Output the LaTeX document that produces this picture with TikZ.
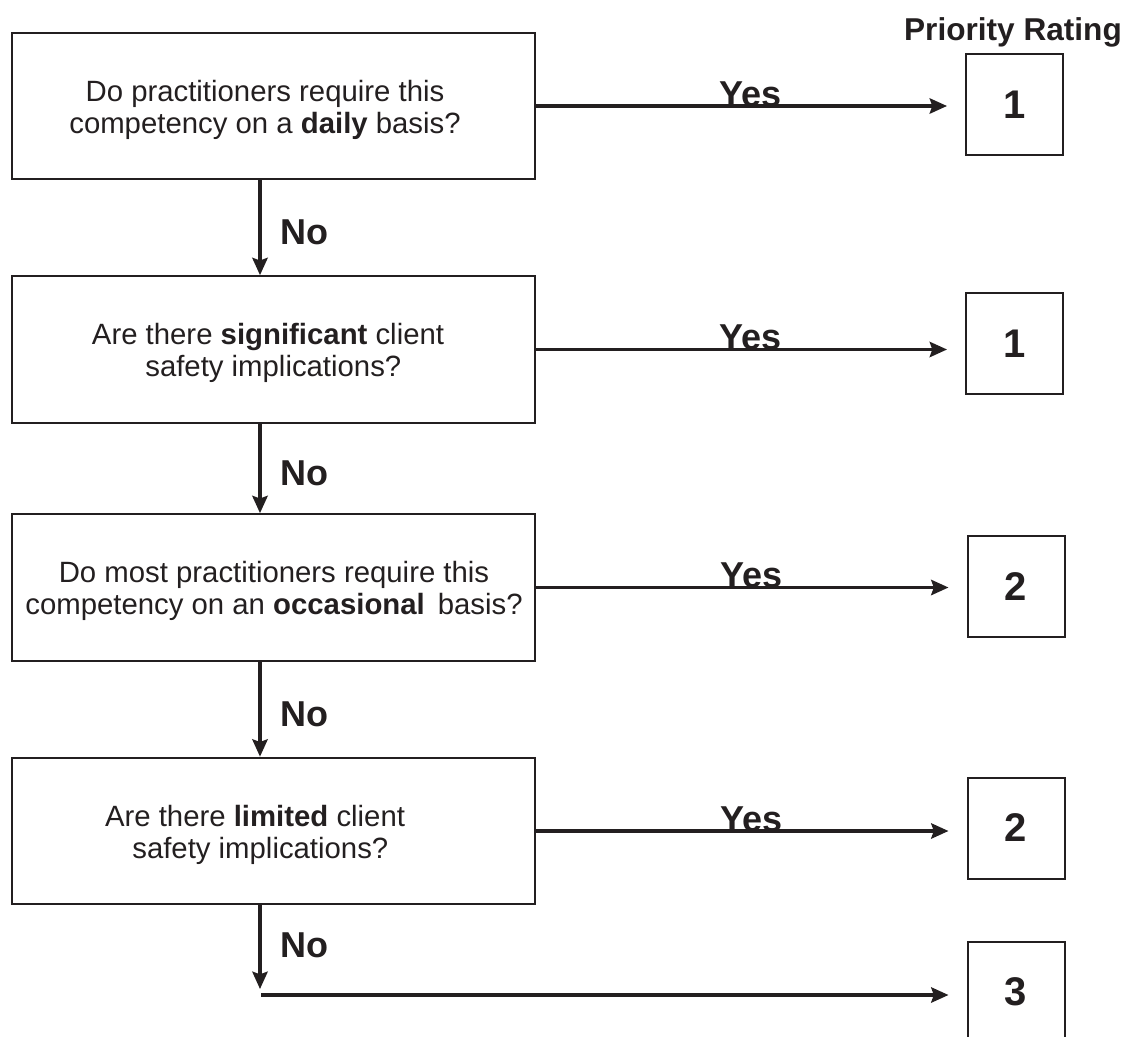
\documentclass[tikz,border=0pt]{standalone}
\usepackage{fontspec}
\setmainfont{Liberation Sans}
\usetikzlibrary{arrows.meta}
\definecolor{ink}{HTML}{231F20}
\begin{document}
\begin{tikzpicture}[x=0.75pt,y=-0.75pt,
  qbox/.style={draw=ink, line width=1.5pt, minimum width=392.25pt, minimum height=110pt, inner sep=0pt},
  rbox/.style={draw=ink, line width=1.5pt, minimum width=72.75pt, minimum height=75.75pt, inner sep=0pt, font=\fontsize{30}{30}\selectfont\bfseries, text=ink},
  qtext/.style={align=center, font=\fontsize{22}{23.5}\selectfont, text=ink, inner sep=0pt},
  arr/.style={draw=ink, line width=2.4pt, -{Stealth[length=13pt,width=11.5pt,inset=2pt]}},
  lbl/.style={font=\fontsize{27}{27}\selectfont\bfseries, text=ink, inner sep=0pt},
]
\useasboundingbox (0,0) rectangle (1136,1036);
% question boxes
\node[qbox] (q1) at (273.5,106) {};
\node[qbox] (q2) at (273.5,349.5) {};
\node[qbox] (q3) at (273.5,587.5) {};
\node[qbox] (q4) at (273.5,831) {};
\node[qtext] (t1) at (265,110) {Do practitioners require this\\competency on a \textbf{daily} basis?};
\node[qtext] (t2) at (268,353) {Are there \textbf{significant} client\\\hspace*{8pt}safety implications?};
\node[qtext] (t3) at (274,591) {Do most practitioners require this\\competency on an \textbf{occasional}\, basis?};
\node[qtext] (t4) at (255,835) {Are there \textbf{limited} client\\\hspace*{8pt}safety implications?};
% rating boxes
\node[font=\fontsize{23.7}{23.7}\selectfont\bfseries, anchor=base, text=ink, inner sep=0pt] (pr) at (1013,40) {Priority Rating};
\node[rbox] (r1) at (1014.5,104.5) {1};
\node[rbox] (r2) at (1014.5,343.5) {1};
\node[rbox] (r3) at (1016,586.5) {2};
\node[rbox] (r4) at (1016,828) {2};
\node[rbox] (r5) at (1016,992) {3};
% yes arrows
\draw[arr, shorten >=13.5pt] (q1.east) -- (q1.east -| r1.west) node[lbl, pos=0.5, anchor=base] {Yes};
\draw[arr, shorten >=13.5pt] (q2.east) -- (q2.east -| r2.west) node[lbl, pos=0.5, anchor=base] {Yes};
\draw[arr, shorten >=13.5pt] (q3.east) -- (q3.east -| r3.west) node[lbl, pos=0.5, anchor=base] {Yes};
\draw[arr, shorten >=13.5pt] (q4.east) -- (q4.east -| r4.west) node[lbl, pos=0.5, anchor=base] {Yes};
% no arrows
\coordinate (v) at (260,0);
\coordinate (j) at (260,995);
\draw[arr] (q1.south -| v) -- (q2.north -| v) node[lbl, pos=0.55, anchor=west, xshift=14pt] {No};
\draw[arr] (q2.south -| v) -- (q3.north -| v) node[lbl, pos=0.55, anchor=west, xshift=14pt] {No};
\draw[arr] (q3.south -| v) -- (q4.north -| v) node[lbl, pos=0.55, anchor=west, xshift=14pt] {No};
\draw[arr, shorten >=4.5pt] (q4.south -| v) -- (j) node[lbl, pos=0.45, anchor=west, xshift=14pt] {No};
\draw[arr, shorten >=13.5pt] ([xshift=0.75pt]j) -- (j -| r5.west);
\end{tikzpicture}
\end{document}
